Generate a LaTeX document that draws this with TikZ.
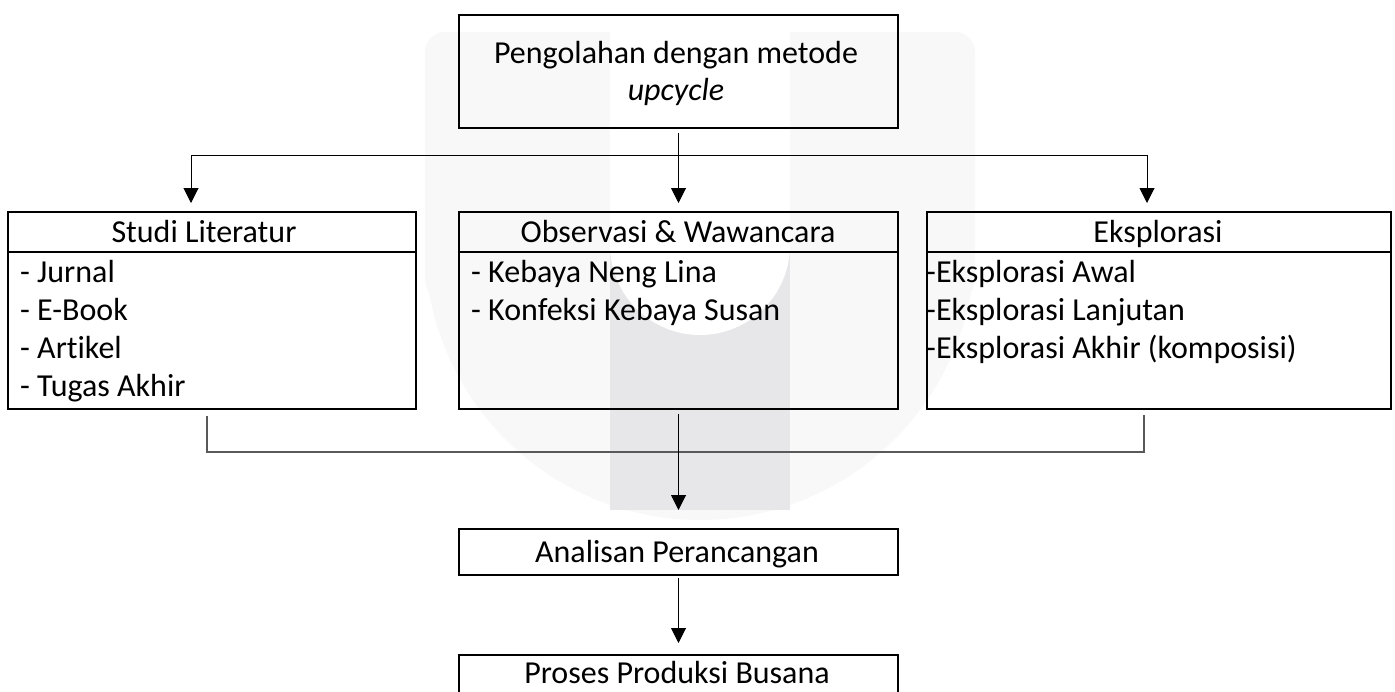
\documentclass[tikz,border=0pt]{standalone}
\usepackage{fontspec}
\setmainfont{Carlito}[Ligatures=NoCommon]
\usetikzlibrary{arrows.meta}
\definecolor{wmlight}{RGB}{248,248,248}
\definecolor{wmbar}{RGB}{231,231,233}
\definecolor{joinline}{RGB}{89,89,89}
\tikzset{
  boxnode/.style={draw=black, line width=2pt, rectangle, inner sep=0pt, anchor=north west},
  txt/.style={inner sep=0pt, font=\fontsize{32}{38}\selectfont},
  arr/.style={-{Triangle[width=15pt,length=15pt]}, line width=1pt},
  link/.style={line width=1pt},
  joinlink/.style={line width=1.4pt, draw=joinline},
}
\begin{document}
\begin{tikzpicture}[x=1pt,y=-1pt]
\useasboundingbox (0,0) rectangle (1395,691);
\clip (0,0) rectangle (1395,691);
% watermark
\fill[wmlight, rounded corners=20pt] (425,32) rectangle (975,300);
\fill[wmlight] (425,200) rectangle (975,245);
\begin{scope}
  \clip (425,245) rectangle (975,540);
  \fill[wmlight] (700,245) circle[radius=275pt];
\end{scope}
\fill[wmbar] (610,245) rectangle (790,510);
\fill[white] (610,32) rectangle (790,245);
\fill[white] (700,245) circle[radius=90pt];

% top box
\node[boxnode, minimum width=439pt, minimum height=113pt] (top) at (458,14) {};
\node[txt, anchor=base] (topa) at (676,63) {Pengolahan dengan metode};
\node[txt, anchor=base] (topb) at (676,100) {\itshape upcycle};

% Studi Literatur
\node[boxnode, minimum width=408pt, minimum height=40pt] (slh) at (7,211) {};
\node[boxnode, minimum width=408pt, minimum height=157pt] (slb) at (7,251) {};
\node[txt, anchor=base] (slt) at (204,242) {Studi Literatur};
\node[txt, anchor=base west] (sl1) at (20,282) {- Jurnal};
\node[txt, anchor=base west] (sl2) at (20,320) {- E-Book};
\node[txt, anchor=base west] (sl3) at (20,358) {- Artikel};
\node[txt, anchor=base west] (sl4) at (20,396) {- Tugas Akhir};

% Observasi
\node[boxnode, minimum width=439pt, minimum height=40pt] (obh) at (458,211) {};
\node[boxnode, minimum width=439pt, minimum height=157pt] (obb) at (458,251) {};
\node[txt, anchor=base] (obt) at (678,242) {Observasi \& Wawancara};
\node[txt, anchor=base west] (ob1) at (471,282) {- Kebaya Neng Lina};
\node[txt, anchor=base west] (ob2) at (471,320) {- Konfeksi Kebaya Susan};

% Eksplorasi
\node[boxnode, minimum width=464pt, minimum height=40pt] (ekh) at (926,211) {};
\node[boxnode, minimum width=464pt, minimum height=157pt] (ekb) at (926,251) {};
\node[txt, anchor=base] (ekt) at (1158,242) {Eksplorasi};
\node[txt, anchor=base west] (ek1) at (926,282) {-Eksplorasi Awal};
\node[txt, anchor=base west] (ek2) at (926,320) {-Eksplorasi Lanjutan};
\node[txt, anchor=base west] (ek3) at (926,358) {-Eksplorasi Akhir (komposisi)};

% Analisan & Proses
\node[boxnode, minimum width=439pt, minimum height=46pt] (ana) at (458,528) {};
\node[txt, anchor=base] (anat) at (677,562) {Analisan Perancangan};
\node[boxnode, minimum width=439pt, minimum height=60pt] (pro) at (458,654) {};
\node[txt, anchor=base] (prot) at (677,683) {Proses Produksi Busana};

% connectors
\coordinate (hl) at (191,155);
\coordinate (hr) at (1147,155);
\draw[link] (hl) -- (hr);
\draw[arr, shorten <=4pt, shorten >=8pt] (top.south) -- (obh.north);
\draw[arr, shorten >=8pt] (hl) -- (hl |- slh.north);
\draw[arr, shorten >=8pt] (hr) -- (hr |- ekh.north);

\coordinate (jl) at (207,452);
\coordinate (jr) at (1144,452);
\draw[joinlink, shorten <=6pt, shorten >=5pt] (jl |- slb.south) -- (jl) -- (jr) -- (jr |- ekb.south);
\draw[arr, shorten <=4pt, shorten >=18pt] (obb.south) -- (ana.north);
\draw[arr, shorten <=2pt, shorten >=11pt] (ana.south) -- (pro.north);
\end{tikzpicture}
\end{document}
